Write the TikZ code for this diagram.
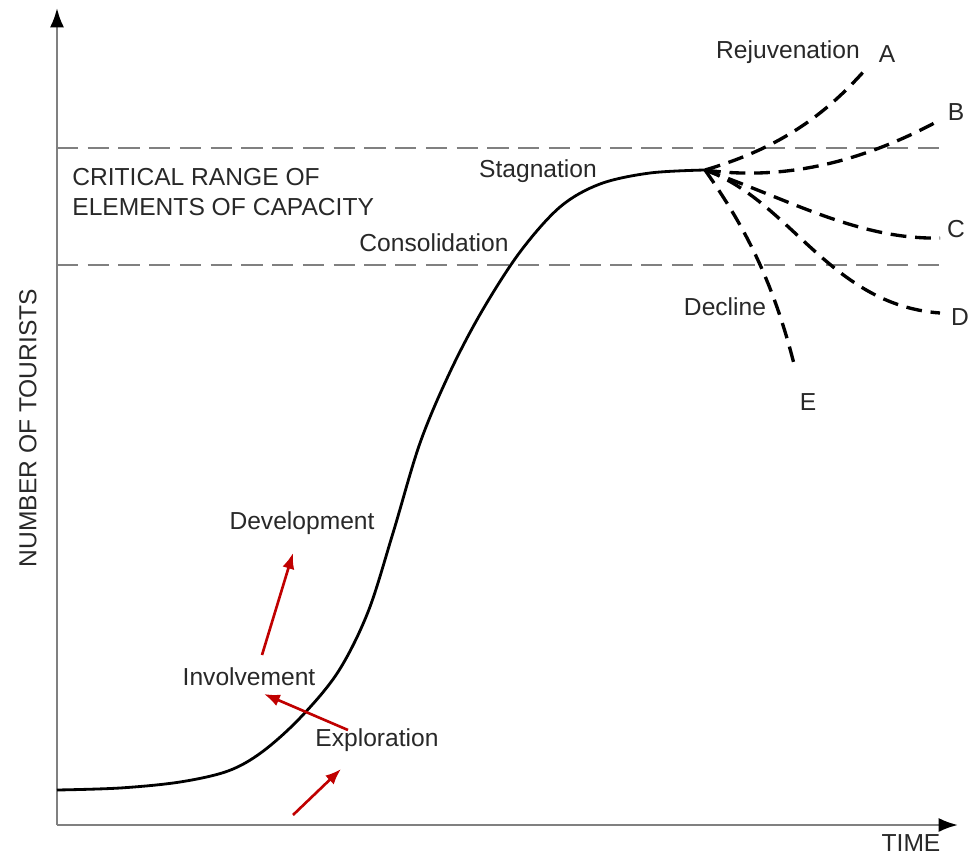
\documentclass[tikz,border=0pt]{standalone}
\usepackage{fontspec}
\setmainfont{Liberation Sans}
\usepackage{tikz}
\usetikzlibrary{positioning,arrows.meta,calc}
\definecolor{axisgray}{RGB}{128,128,128}
\definecolor{textgray}{RGB}{40,40,40}
\definecolor{arrowred}{RGB}{192,0,0}
\tikzset{
    tag/.style = {
        shape=rectangle,
        inner sep=0pt,
        text=textgray,
        font=\fontsize{14}{16}\selectfont
    },
    axisline/.style = {
        draw=axisgray,
        line width=1.4pt,
        -{Latex[length=11pt,width=8pt,color=black]}
    },
    capline/.style = {
        draw=axisgray,
        line width=1.1pt,
        dash pattern=on 12pt off 5.5pt
    },
    branch/.style = {
        draw=black,
        line width=1.9pt,
        dash pattern=on 9pt off 5pt
    },
    growth/.style = {
        draw=black,
        line width=1.6pt
    },
    pointer/.style = {
        draw=arrowred,
        line width=1.5pt,
        -{Latex[length=9pt,width=7pt]}
    },
}
\begin{document}
\begin{tikzpicture}[x=0.02cm,y=-0.02cm]
                \useasboundingbox (0,0) rectangle (972,854);

                \coordinate (orig) at (57,825);
                \coordinate (ytop) at (57,8);
                \coordinate (xend) at (958,825);
                \coordinate (start) at (57,790);
                \coordinate (peak) at (705,170);
                \coordinate (endA) at (865,70);
                \coordinate (endB) at (940,120);
                \coordinate (endC) at (940,238);
                \coordinate (endD) at (940,313);
                \coordinate (endE) at (795,368);

                \node[tag] (yname) at (28,428) [rotate=90] {NUMBER OF TOURISTS};
                \node[tag] (time) at (911,843) {TIME};
                \node[tag, anchor=west] (crit1) at (72,177) {CRITICAL RANGE OF};
                \node[tag, anchor=west] (crit2) at (72,207) {ELEMENTS OF CAPACITY};
                \node[tag] (stag) at (538,171) {Stagnation};
                \node[tag] (cons) at (434,243) {Consolidation};
                \node[tag] (rejuv) at (788,52) {Rejuvenation};
                \node[tag] (decl) at (725,307) {Decline};
                \node[tag] (devel) at (302,523) {Development};
                \node[tag] (invol) at (249,677) {Involvement};
                \node[tag] (explo) at (377,740) {Exploration};
                \node[tag] (labA) at (887,54) {A};
                \node[tag] (labB) at (956,112) {B};
                \node[tag] (labC) at (956,229) {C};
                \node[tag] (labD) at (960,317) {D};
                \node[tag] (labE) at (808,402) {E};

                % upper and lower limit of capacity
                \coordinate (hiL) at (57,148);
                \coordinate (hiR) at (948,148);
                \coordinate (loL) at (57,265);
                \coordinate (loR) at (948,265);
                \path[capline] (hiL) -- (hiR);
                \path[capline] (loL) -- (loR);

                \path[axisline] (orig) -- (ytop);
                \path[axisline] (orig) -- (xend);

                % life cycle curve
                \path[growth] plot[smooth, tension=0.55] coordinates {(57,790) (120,788) (180,782) (228,771)
                    (262,752) (300,718) (338,672) (368,612) (393,533) (420,443) (450,372) (482,311)
                    (520,252) (560,207) (600,184) (650,173) (705,170)};

                % future options
                \path[branch] (peak) .. controls (780,148) and (825,115) .. (endA);
                \path[branch] (peak) .. controls (790,182) and (870,158) .. (endB);
                \path[branch] (peak) .. controls (790,200) and (860,240) .. (endC);
                \path[branch] (peak) .. controls (790,200) and (830,305) .. (endD);
                \path[branch] (peak) .. controls (740,220) and (772,275) .. (endE);

                \coordinate (p1a) at (262,655);
                \coordinate (p1b) at (293,553);
                \coordinate (p2a) at (348,730);
                \coordinate (p2b) at (264,694);
                \coordinate (p3a) at (293,815);
                \coordinate (p3b) at (341,769);
                \path[pointer] (p1a) -- (p1b);
                \path[pointer] (p2a) -- (p2b);
                \path[pointer] (p3a) -- (p3b);
\end{tikzpicture}
\end{document}
